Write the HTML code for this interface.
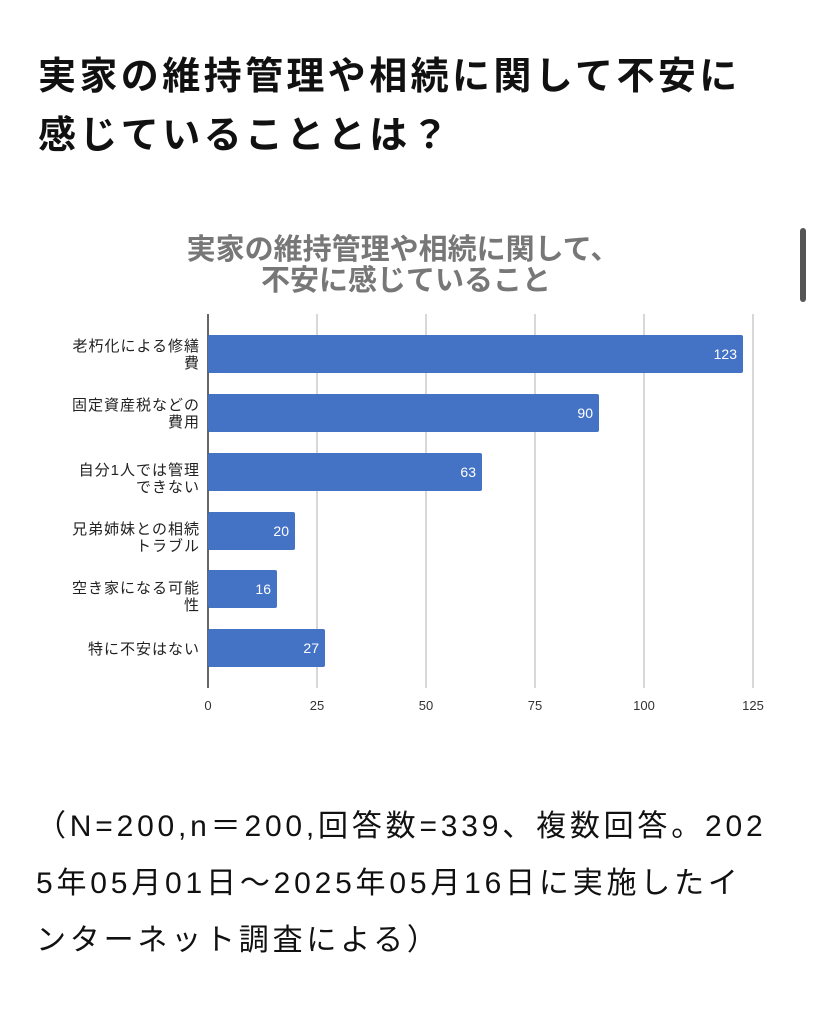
<!DOCTYPE html>
<html><head><meta charset="utf-8"><style>
body{margin:0;width:813px;height:1024px;background:#fff;position:relative;overflow:hidden;font-family:"Liberation Sans","Noto Sans CJK JP",sans-serif;}
.t{position:absolute;left:38px;font-weight:bold;font-size:38px;letter-spacing:3.4px;color:#111;white-space:nowrap;line-height:1}
.f{position:absolute;left:36px;font-size:30px;color:#111;white-space:nowrap;line-height:1;letter-spacing:3.8px}
</style></head><body>
<div class="t" style="top:58px">実家の維持管理や相続に関して不安に</div>
<div class="t" style="top:117px">感じていることとは？</div>
<svg style="position:absolute;left:0;top:0" width="813" height="1024">
<rect x="800" y="228" width="6" height="74" rx="3" fill="#555"/>
<g font-family="Liberation Sans,Noto Sans CJK JP,sans-serif" font-weight="bold" font-size="29" fill="#777" text-anchor="middle">
<text x="403" y="259">実家の維持管理や相続に関して、</text>
<text x="406" y="290">不安に感じていること</text>
</g>
<g stroke="#ccc" stroke-width="1.5">
<line x1="317" y1="314" x2="317" y2="688"/><line x1="426" y1="314" x2="426" y2="688"/>
<line x1="535" y1="314" x2="535" y2="688"/><line x1="644" y1="314" x2="644" y2="688"/>
<line x1="753" y1="314" x2="753" y2="688"/>
</g>
<line x1="208" y1="314" x2="208" y2="688" stroke="#333" stroke-width="1.5"/>
<g fill="#4472c4">
<rect x="208" y="335" width="535" height="38" rx="2"/>
<rect x="208" y="394" width="391" height="38" rx="2"/>
<rect x="208" y="453" width="274" height="38" rx="2"/>
<rect x="208" y="512" width="87" height="38" rx="2"/>
<rect x="208" y="570" width="69" height="38" rx="2"/>
<rect x="208" y="629" width="117" height="38" rx="2"/>
</g>
<g fill="#fff" font-size="14" text-anchor="end">
<text x="737" y="359">123</text><text x="593" y="418">90</text><text x="476" y="477">63</text>
<text x="289" y="536">20</text><text x="271" y="594">16</text><text x="319" y="653">27</text>
</g>
<g fill="#222" font-size="15" text-anchor="end" letter-spacing="1">
<text x="200" y="351">老朽化による修繕</text><text x="200" y="368">費</text>
<text x="200" y="410">固定資産税などの</text><text x="200" y="427">費用</text>
<text x="200" y="475">自分1人では管理</text><text x="200" y="492">できない</text>
<text x="200" y="534">兄弟姉妹との相続</text><text x="200" y="551">トラブル</text>
<text x="200" y="593">空き家になる可能</text><text x="200" y="610">性</text>
<text x="200" y="654">特に不安はない</text>
</g>
<g fill="#333" font-size="13" text-anchor="middle">
<text x="208" y="710">0</text><text x="317" y="710">25</text><text x="426" y="710">50</text>
<text x="535" y="710">75</text><text x="644" y="710">100</text><text x="753" y="710">125</text>
</g>
</svg>
<div class="f" style="top:812px">（N=200,n＝200,回答数=339、複数回答。202</div>
<div class="f" style="top:869px">5年05月01日～2025年05月16日に実施したイ</div>
<div class="f" style="top:926px">ンターネット調査による）</div>
</body></html>
